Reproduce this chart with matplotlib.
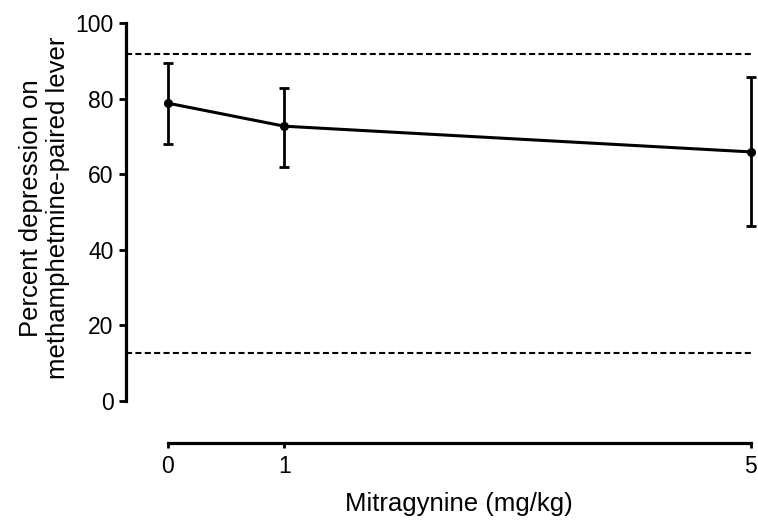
import matplotlib
matplotlib.use("Agg")
import matplotlib.pyplot as plt

# Datos
dose = [0, 1, 5]
mean_dep = [78.8, 72.7, 65.9]
err_low = [68.0, 62.0, 46.4]
err_high = [89.5, 82.9, 85.6]
ref_upper = 91.7
ref_lower = 12.8
y_ticks = [0, 20, 40, 60, 80, 100]

plt.rcParams["font.family"] = ["Liberation Sans", "DejaVu Sans"]

fig = plt.figure(figsize=(7.58, 5.21), dpi=100)
ax = fig.add_axes([126 / 758, 120 / 521, (750.7 - 126) / 758, 378 / 521])

yerr = [[m - lo for m, lo in zip(mean_dep, err_low)],
        [hi - m for m, hi in zip(mean_dep, err_high)]]

ax.axhline(ref_upper, color="black", lw=1.5, linestyle=(0, (2.9, 1.6)))
ax.axhline(ref_lower, color="black", lw=1.5, linestyle=(0, (2.9, 1.6)))

ax.errorbar(dose, mean_dep, yerr=yerr, color="black", lw=2.2, marker="o",
            markersize=5.5, elinewidth=2.0, capsize=3.4, capthick=2.0,
            clip_on=False, zorder=3)

ax.set_xlim(-0.358, 5.0)
ax.set_ylim(0, 100)
ax.set_xticks(dose)
ax.set_xticklabels([str(d) for d in dose])
ax.set_yticks(y_ticks)

for side in ["top", "right"]:
    ax.spines[side].set_visible(False)
ax.spines["left"].set_linewidth(2.3)
ax.spines["bottom"].set_linewidth(2.3)
ax.spines["left"].set_bounds(0, 100)
ax.spines["bottom"].set_bounds(0, 5)
ax.spines["bottom"].set_position(("outward", 30.5))

ax.tick_params(axis="y", length=5, width=2.0, pad=4, labelsize=16.5)
ax.tick_params(axis="x", length=3.5, width=2.0, pad=5, labelsize=16.5)

ax.set_ylabel("Percent depression on\nmethamphetmine-paired lever",
              fontsize=18.5, linespacing=1.15)
ax.yaxis.set_label_coords(-0.09, 0.51)
ax.set_xlabel("Mitragynine (mg/kg)", fontsize=18.5)
ax.xaxis.set_label_coords(0.5334, -0.24)

fig.savefig("out.png", dpi=100)
